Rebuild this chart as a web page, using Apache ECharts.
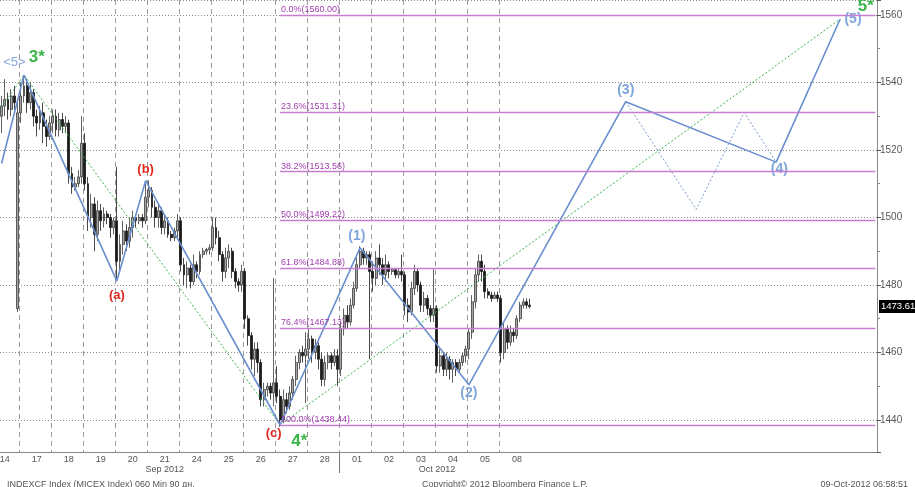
<!DOCTYPE html>
<html>
<head>
<meta charset="utf-8">
<script src="https://cdn.jsdelivr.net/npm/echarts@6/dist/echarts.min.js"></script>
<style>
html,body{margin:0;padding:0;background:#fff;}
#chart{width:915px;height:487px;}
</style>
</head>
<body>
<div id="chart"></div>
<script>
// ---------------- DATA ----------------
const dayLabels = ['14','17','18','19','20','21','24','25','26','27','28','01','02','03','04','05','08'];
const barsPerDay = [6,10,10,10,10,10,10,10,10,10,10,10,10,10,10,10,10];
const monthLabels = ['Sep 2012','Oct 2012'];
const totalSlots = 274;

// hourly bars [open, close, low, high]
const day14 = [[1530,1533,1525,1536],[1533,1535,1530,1541],[1535,1532,1529,1537],[1532,1536,1530,1538],[1536,1534,1532,1539],[1473,1531,1472,1535]];
const day17 = [[1531,1536,1528,1540],[1536,1539,1534,1542],[1539,1534,1531,1541],[1534,1537,1532,1540],[1537,1530,1527,1538],[1530,1528,1524,1532],[1528,1531,1526,1533],[1531,1527,1522,1534],[1527,1524,1521,1529],[1524,1528,1523,1530]];
const day18 = [[1528,1530,1525,1532],[1530,1526,1524,1532],[1526,1529,1524,1531],[1529,1527,1525,1531],[1527,1528,1525,1530],[1528,1513,1510,1529],[1513,1509,1507,1515],[1509,1510,1508,1512],[1510,1512,1509,1514],[1512,1522,1510,1530]];
const day19 = [[1522,1510,1508,1525],[1510,1500,1496,1512],[1500,1504,1497,1507],[1504,1495,1490,1506],[1495,1502,1493,1505],[1502,1499,1496,1504],[1499,1501,1497,1503],[1501,1500,1498,1502],[1500,1497,1494,1501],[1497,1499,1495,1500]];
const day20 = [[1499,1487,1482,1515],[1487,1492,1484,1495],[1492,1496,1489,1499],[1496,1493,1490,1498],[1493,1497,1491,1500],[1497,1500,1494,1502],[1500,1499,1497,1501],[1499,1500,1498,1501],[1500,1499,1497,1501],[1499,1506,1498,1510]];
const day21 = [[1506,1508,1503,1511],[1508,1503,1500,1509],[1503,1500,1497,1505],[1500,1502,1497,1504],[1502,1497,1495,1503],[1497,1499,1495,1501],[1499,1495,1494,1500],[1495,1494,1493,1496],[1494,1496,1493,1497],[1496,1499,1494,1501]];
const day24 = [[1499,1486,1484,1500],[1486,1483,1480,1488],[1483,1485,1479,1487],[1485,1481,1479,1486],[1481,1486,1480,1489],[1486,1484,1482,1487],[1484,1489,1483,1490],[1489,1490,1488,1491],[1490,1490.5,1489,1491],[1490.5,1491,1489,1492]];
const day25 = [[1491,1497,1490,1500],[1497,1494,1492,1500],[1494,1489,1487,1496],[1489,1484,1481,1490],[1484,1488,1482,1491],[1488,1490,1485,1492],[1490,1484,1482,1491],[1484,1481,1479,1485],[1481,1480,1478,1482],[1480,1484,1478,1486]];
const day26 = [[1484,1470,1467,1485],[1470,1465,1462,1471],[1465,1458,1455,1466],[1458,1461,1453,1463],[1461,1457,1454,1463],[1457,1446,1444,1458],[1446,1449,1444,1451],[1449,1450,1447,1451],[1450,1448,1446,1451],[1448,1451,1444,1482]];
const day27 = [[1451,1447,1445,1456],[1447,1440,1438,1449],[1440,1446,1439,1449],[1446,1444,1442,1448],[1444,1448,1443,1450],[1448,1452,1446,1453],[1452,1457,1450,1459],[1457,1460,1455,1461],[1460,1459,1457,1462],[1459,1461,1445,1466]];
const day28 = [[1461,1464,1458,1467],[1464,1460,1457,1465],[1460,1462,1458,1464],[1462,1458,1455,1463],[1458,1452,1450,1460],[1452,1457,1450,1459],[1457,1459,1455,1460],[1459,1457,1455,1460],[1457,1459,1456,1461],[1459,1455,1450,1461]];
const day01 = [[1455,1467,1453,1469],[1467,1471,1465,1473],[1471,1469,1467,1474],[1469,1474,1468,1476],[1474,1479,1473,1481],[1479,1486,1478,1488],[1486,1490,1485,1491.5],[1490,1488,1486,1491],[1488,1489,1486,1490],[1489,1484,1458,1490]];
const day02 = [[1484,1482,1478,1487],[1482,1488,1480,1490],[1488,1486,1483,1492],[1486,1483,1480,1488],[1483,1486,1481,1489],[1486,1484,1482,1487],[1484,1484.5,1483,1485],[1484.5,1483,1482,1485],[1483,1484,1482,1485],[1484,1483,1481,1489]];
const day03 = [[1483,1474,1471,1484],[1474,1472,1469,1476],[1472,1479,1471,1481],[1479,1484,1477,1486],[1484,1480,1478,1485],[1480,1474,1472,1481],[1474,1476,1472,1478],[1476,1473,1471,1477],[1473,1471,1469,1474],[1471,1473,1469,1485]];
const day04 = [[1473,1456,1454,1474],[1456,1459,1454,1461],[1459,1455,1453,1460],[1455,1458,1453,1460],[1458,1455,1452,1459],[1455,1457,1451,1458],[1457,1455,1453,1458],[1455,1457,1454,1458],[1457,1459,1456,1460],[1459,1461,1457,1462]];
const day05 = [[1461,1466,1458,1467],[1466,1475,1464,1477],[1475,1483,1473,1485],[1483,1487,1481,1489],[1487,1484,1481,1489],[1484,1478,1476,1486],[1478,1477,1476,1479],[1477,1476,1475,1478],[1476,1477,1476,1478],[1477,1476,1475,1478]];
const day08 = [[1476,1460,1457,1477],[1460,1467,1458,1469],[1467,1463,1461,1468],[1463,1466,1462,1468],[1466,1465,1463,1467],[1465,1470,1464,1471],[1470,1474,1469,1475],[1474,1475,1473,1476],[1475,1474,1473,1476],[1474,1473.61,1473,1476]];

const lastPrice = 1473.61;

// Fibonacci retracement
const fibPct = ['0.0%','23.6%','38.2%','50.0%','61.8%','76.4%','100.0%'];
const fibLevels = [1560.00,1531.31,1513.56,1499.22,1484.88,1467.13,1438.44];

// Elliott wave path (slot index, value)
const waveSlots  = [0,    7,      36,     45,     87,     112,  146,    195,    242,    262];
const waveValues = [1516, 1542.2, 1481.2, 1510.9, 1438.5, 1491, 1450.4, 1534.3, 1516.4, 1558.8];
const altSlots  = [195,    217,    232,    242];
const altValues = [1534.3, 1502.4, 1531.1, 1516.4];
const trendSlots  = [0,      7,      87,     262];
const trendValues = [1532.7, 1542.2, 1438.5, 1558.8];

// annotation texts
const waveTexts  = ['<5>','3*','(a)','(b)','(c)','4*','(1)','(2)','(3)','(4)','(5)','5*'];
const waveTextSlots = [4, 11, 36, 45, 85, 93, 111, 146, 195, 243, 266, 270];
const waveTextValues = [1545.8, 1547.6, 1477.0, 1514.1, 1435.9, 1433.8, 1494.5, 1448, 1537.8, 1514.4, 1558.8, 1562.7];

// ---------------- BUILD ----------------
const ohlc = [].concat(day14,day17,day18,day19,day20,day21,day24,day25,day26,day27,day28,day01,day02,day03,day04,day05,day08);
const cats = Array.from({length: totalSlots}, (_, i) => String(i));

const dayStart = [];
let acc = 0;
barsPerDay.forEach(n => { dayStart.push(acc); acc += n; });
const dayLabelMap = {};
dayLabels.forEach((d, i) => { dayLabelMap[dayStart[i] + barsPerDay[i] - 5] = d; });
const boundarySet = new Set(dayStart.slice(1));
const monthBoundary = dayStart[dayLabels.indexOf('01')];
const monthLabelMap = {};
monthLabelMap[dayStart[dayLabels.indexOf('21')] + 5] = monthLabels[0];
monthLabelMap[dayStart[dayLabels.indexOf('04')]] = monthLabels[1];

const FONT = 'Liberation Sans';
const BLUE = '#6a8fcf';
const LBLUE = '#7ea6dc';
const GREEN = '#3bb54a';
const RED = '#e02a20';
const PURPLE_LINE = '#c77dd0';
const PURPLE_TEXT = '#a23fae';

function textStyleFor(t) {
  if (t === '<5>') return {color: '#86a8d8', fontSize: 13, fontWeight: 'normal'};
  if (t.indexOf('*') >= 0) return {color: GREEN, fontSize: 17, fontWeight: 'bold'};
  if (/\([abc]\)/.test(t)) return {color: RED, fontSize: 13, fontWeight: 'bold'};
  return {color: LBLUE, fontSize: 14, fontWeight: 'bold'};
}

const fibMarks = fibLevels.map((lv, i) => [
  {coord: [String(87), lv], label: {formatter: fibPct[i] + '(' + lv.toFixed(2) + ')'}},
  {coord: [String(totalSlots - 1), lv]}
]);

const option = {
  animation: false,
  backgroundColor: '#ffffff',
  textStyle: {fontFamily: FONT},
  title: [
    {text: 'INDEXCF Index (MICEX Index) 060 Min 90 дн.', left: 2, top: 475,
     textStyle: {fontSize: 9, fontWeight: 'normal', color: '#555', fontFamily: FONT}},
    {text: 'Copyright\u00A9 2012 Bloomberg Finance L.P.', left: 417, top: 475,
     textStyle: {fontSize: 9, fontWeight: 'normal', color: '#555', fontFamily: FONT}},
    {text: '09-Oct-2012 06:58:51', right: 2, top: 475,
     textStyle: {fontSize: 9, fontWeight: 'normal', color: '#555', fontFamily: FONT}}
  ],
  grid: {left: 0, right: 38, top: 0, bottom: 35, containLabel: false, outerBoundsMode: 'none'},
  xAxis: [
    {
      type: 'category', data: cats, boundaryGap: true,
      axisLine: {show: true, lineStyle: {color: '#888', width: 1}},
      axisTick: {show: false},
      axisLabel: {show: true, interval: (i) => dayLabelMap[i] !== undefined,
        formatter: (v, i) => dayLabelMap[i] || '', fontSize: 9, color: '#555', margin: 3, fontFamily: FONT},
      splitLine: {show: true, interval: (i) => boundarySet.has(i),
        lineStyle: {type: [5, 4], color: '#9a9a9a', width: 1}}
    },
    {
      type: 'category', data: cats, boundaryGap: true, position: 'bottom', offset: 10,
      axisLine: {show: false}, axisTick: {show: false}, splitLine: {show: false},
      axisLabel: {show: true, interval: (i) => monthLabelMap[i] !== undefined,
        formatter: (v, i) => monthLabelMap[i] || '', fontSize: 9, color: '#555', margin: 3, fontFamily: FONT}
    }
  ],
  yAxis: {
    type: 'value', position: 'right', min: 1430.5, max: 1564.44,
    minInterval: 20, maxInterval: 20, splitNumber: 7, scale: true,
    axisLine: {show: true, lineStyle: {color: '#888'}},
    axisTick: {show: true, length: 4, lineStyle: {color: '#555'}},
    minorTick: {show: true, splitNumber: 2, length: 3, lineStyle: {color: '#888'}},
    axisLabel: {fontSize: 10, color: '#555', margin: 3, showMinLabel: false, showMaxLabel: false, fontFamily: FONT,
      formatter: (v) => String(Math.round(v))},
    splitLine: {show: true, lineStyle: {type: [1, 2], color: '#8a8a8a', width: 1}}
  },
  series: [
    {
      name: 'fib', type: 'line', data: [], silent: true,
      markLine: {
        silent: true, symbol: ['none', 'none'], animation: false,
        lineStyle: {color: PURPLE_LINE, width: 1.3, type: 'solid'},
        label: {show: true, position: 'insideStartTop', distance: [1, 1], color: PURPLE_TEXT, fontSize: 9, fontFamily: FONT},
        emphasis: {disabled: true},
        data: fibMarks
      }
    },
    {
      name: 'price', type: 'candlestick', data: ohlc, barWidth: 2.4,
      itemStyle: {color: '#a8a8a8', color0: '#1a1a1a', borderColor: '#3a3a3a', borderColor0: '#1a1a1a', borderWidth: 0.8}
    },
    {
      name: 'last', type: 'line', data: [], silent: true, clip: false,
      markLine: {
        silent: true, symbol: ['none', 'none'], animation: false,
        lineStyle: {color: 'rgba(0,0,0,0)', width: 0},
        label: {show: true, position: 'end', formatter: lastPrice.toFixed(2), backgroundColor: '#000',
          color: '#fff', fontSize: 9.5, padding: [2, 1, 1, 2], distance: 2, fontFamily: FONT},
        emphasis: {disabled: true},
        data: [{yAxis: lastPrice}]
      }
    },
    {
      name: 'trend', type: 'line', symbol: 'none', silent: true,
      data: trendSlots.map((s, i) => [s, trendValues[i]]),
      lineStyle: {color: GREEN, width: 1, type: [2, 2]}
    },
    {
      name: 'alt', type: 'line', symbol: 'none', silent: true,
      data: altSlots.map((s, i) => [s, altValues[i]]),
      lineStyle: {color: '#7c9bd0', width: 1, type: [2, 2]}
    },
    {
      name: 'wave', type: 'line', symbol: 'none', silent: true,
      data: waveSlots.map((s, i) => [s, waveValues[i]]),
      lineStyle: {color: BLUE, width: 1.6}
    },
    {
      name: 'labels', type: 'scatter', symbolSize: 1, silent: true, clip: false,
      itemStyle: {color: '#ffffff', opacity: 0},
      data: waveTexts.map((t, i) => ({
        value: [waveTextSlots[i], waveTextValues[i]],
        label: Object.assign({show: true, position: 'inside', formatter: t, fontFamily: FONT,
          textBorderWidth: 0, opacity: 1}, textStyleFor(t))
      }))
    }
  ]
};

const chart = echarts.init(document.getElementById('chart'), null, {renderer: 'canvas'});
chart.setOption(option);

// month separator tick below the axis, placed through the axis scale
const c0 = chart.convertToPixel({xAxisIndex: 0}, 0);
const c1 = chart.convertToPixel({xAxisIndex: 0}, 1);
const band = c1 - c0;
const mx = Math.round(chart.convertToPixel({xAxisIndex: 0}, monthBoundary) - band / 2) + 0.5;
const yb = chart.convertToPixel({yAxisIndex: 0}, 1430.5);
chart.setOption({
  graphic: {elements: [{type: 'line', silent: true,
    shape: {x1: mx, y1: yb, x2: mx, y2: yb + 21},
    style: {stroke: '#777', lineWidth: 1}}]}
});
</script>
</body>
</html>
